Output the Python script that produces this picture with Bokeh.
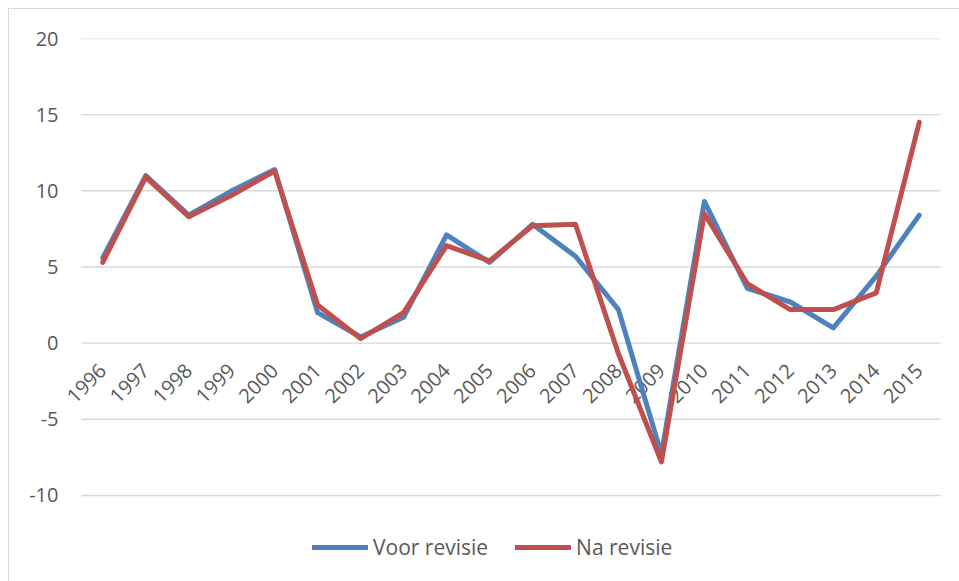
import math
from bokeh.plotting import figure
from bokeh.models import (FixedTicker, Range1d, FactorRange, Legend, LegendItem,
                          ColumnDataSource)
from bokeh.embed import file_html
from bokeh.resources import INLINE

years = ["1996", "1997", "1998", "1999", "2000", "2001", "2002", "2003", "2004", "2005",
         "2006", "2007", "2008", "2009", "2010", "2011", "2012", "2013", "2014", "2015"]
voor_revisie = [5.6, 11.0, 8.4, 10.0, 11.4, 2.0, 0.4, 1.7, 7.1, 5.3,
                7.8, 5.7, 2.2, -7.3, 9.3, 3.6, 2.7, 1.0, 4.4, 8.4]
na_revisie = [5.3, 10.9, 8.3, 9.7, 11.3, 2.5, 0.3, 2.0, 6.4, 5.4,
              7.7, 7.8, -0.7, -7.8, 8.5, 3.9, 2.2, 2.2, 3.3, 14.5]
y_ticks = [-10, -5, 0, 5, 10, 15, 20]
series_names = ["Voor revisie", "Na revisie"]

FONT = "Open Sans"
TXT = "#595959"

x_range = FactorRange(*years, range_padding=0.46, range_padding_units="absolute")
p = figure(width=951, height=573, x_range=x_range, y_range=Range1d(-15.06, 20),
           output_backend="svg", toolbar_location=None,
           min_border_left=52, min_border_right=0, min_border_top=29, min_border_bottom=10)
p.styles = {"margin-left": "8px", "margin-top": "8px",
            "border-left": "1px solid #d9d9d9", "border-top": "1px solid #d9d9d9"}
p.outline_line_color = None
p.background_fill_color = "white"
p.border_fill_color = "white"

p.xgrid.grid_line_color = None
p.ygrid.grid_line_color = None

# horizontal gridlines spanning exactly the category band (synthetic coords 0..N)
n = len(years)
grid_src = ColumnDataSource(dict(x0=[0] * len(y_ticks), x1=[n] * len(y_ticks),
                                 y=y_ticks))
p.segment(x0="x0", y0="y", x1="x1", y1="y", source=grid_src,
          line_color="#d9d9d9", line_width=1.4, level="underlay")

p.xaxis.fixed_location = 0
p.xaxis.axis_line_color = None
p.xaxis.major_tick_line_color = None
p.xaxis.minor_tick_line_color = None
p.xaxis.major_tick_out = 0
p.xaxis.major_label_orientation = math.pi / 4
p.xaxis.major_label_standoff = 24
p.xaxis.major_label_text_font = FONT
p.xaxis.major_label_text_font_size = "20px"
p.xaxis.major_label_text_color = TXT

p.yaxis.ticker = FixedTicker(ticks=y_ticks)
p.yaxis.major_label_overrides = {t: str(t) for t in y_ticks}
p.yaxis.axis_line_color = None
p.yaxis.major_tick_line_color = None
p.yaxis.minor_tick_line_color = None
p.yaxis.major_tick_out = 0
p.yaxis.major_label_standoff = 3
p.yaxis.major_label_text_font = FONT
p.yaxis.major_label_text_font_size = "20px"
p.yaxis.major_label_text_color = TXT

r1 = p.line(years, voor_revisie, line_color="#4f81bd", line_width=5,
            line_join="round", line_cap="round", level="annotation")
r2 = p.line(years, na_revisie, line_color="#c0504d", line_width=5,
            line_join="round", line_cap="round", level="annotation")

legend = Legend(items=[LegendItem(label=series_names[0], renderers=[r1]),
                       LegendItem(label=series_names[1], renderers=[r2])],
                orientation="horizontal", location=(251, 11),
                border_line_color=None, background_fill_alpha=0,
                label_text_font=FONT, label_text_font_size="21px", label_text_color=TXT,
                glyph_width=56, label_standoff=5, spacing=27, padding=0, margin=0)
p.add_layout(legend)

open("out.html", "w").write(file_html(p, INLINE))
